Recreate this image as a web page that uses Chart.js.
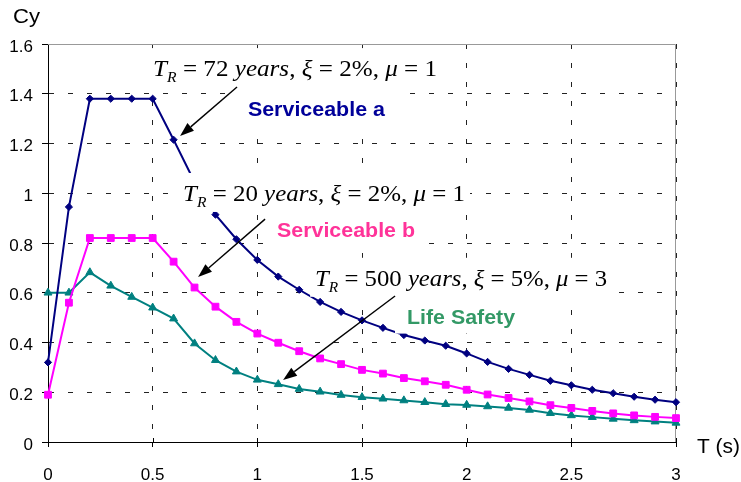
<!DOCTYPE html>
<html>
<head>
<meta charset="utf-8">
<title>Cy spectra</title>
<script src="https://cdn.jsdelivr.net/npm/chart.js@4/dist/chart.umd.min.js"></script>
<style>
  html, body { margin: 0; padding: 0; background: #fff; }
</style>
</head>
<body>
<canvas id="chart-cy" width="741" height="482"></canvas>
<script>
// periods T (s)
const periods = [0, 0.1, 0.2, 0.3, 0.4, 0.5, 0.6, 0.7, 0.8, 0.9, 1.0,
  1.1, 1.2, 1.3, 1.4, 1.5, 1.6, 1.7, 1.8, 1.9, 2.0,
  2.1, 2.2, 2.3, 2.4, 2.5, 2.6, 2.7, 2.8, 2.9, 3.0];

// Cy
const serviceableA = [0.32, 0.945, 1.38, 1.38, 1.38, 1.38, 1.215, 1.045, 0.914, 0.815, 0.732,
  0.665, 0.612, 0.563, 0.523, 0.489, 0.459, 0.430, 0.408, 0.387, 0.356,
  0.322, 0.294, 0.270, 0.246, 0.228, 0.210, 0.196, 0.182, 0.170, 0.160];
const serviceableB = [0.19, 0.56, 0.82, 0.82, 0.82, 0.82, 0.725, 0.621, 0.544, 0.483, 0.436,
  0.399, 0.365, 0.336, 0.313, 0.290, 0.275, 0.257, 0.244, 0.230, 0.210,
  0.191, 0.177, 0.163, 0.148, 0.137, 0.125, 0.115, 0.107, 0.101, 0.096];
const lifeSafety = [0.60, 0.60, 0.682, 0.628, 0.583, 0.540, 0.496, 0.396, 0.329, 0.283, 0.250,
  0.232, 0.213, 0.202, 0.189, 0.180, 0.174, 0.167, 0.160, 0.152, 0.149,
  0.143, 0.137, 0.129, 0.116, 0.107, 0.100, 0.093, 0.087, 0.082, 0.077];

const seriesNames = ["Serviceable a", "Serviceable b", "Life Safety"];
const returnPeriods = [72, 20, 500];
const dampingRatios = ["2%", "2%", "5%"];
const ductilities = [1, 1, 3];

const sans = "'Liberation Sans', Arial, sans-serif";
const serif = "'Liberation Serif', 'Times New Roman', serif";

// where the notes sit, in axis units (T, Cy)
const notes = [
  { text: [0.502, 1.471], textW: 284, label: [0.955, 1.312], labelW: 137, labelColor: "#000099",
    from: [0.903, 1.427], to: [0.631, 1.230] },
  { text: [0.645, 0.969], textW: 282, label: [1.094, 0.825], labelW: 138, labelColor: "#ff3399",
    from: [1.037, 0.896], to: [0.717, 0.663] },
  { text: [1.276, 0.628], textW: 292, label: [1.715, 0.476], labelW: 108, labelColor: "#339966",
    from: [1.658, 0.587], to: [1.123, 0.249] },
];

const points = (values) => periods.map((t, i) => ({ x: t, y: values[i] }));

const mathRuns = (i) => [
  { s: "T", it: true }, { s: "R", it: true, sub: true },
  { s: " = " + returnPeriods[i] + " " }, { s: "years", it: true }, { s: ", " },
  { s: "ξ", it: true }, { s: " = " + dampingRatios[i] }, { s: ", " },
  { s: "μ", it: true }, { s: " = " + ductilities[i] },
];
const runFont = (r) => (r.it ? "italic " : "") + (r.sub ? 15 : 24) + "px " + serif;

// draws a row of text runs stretched to the given width
const drawRuns = (ctx, runs, x, y, width) => {
  let natural = 0;
  runs.forEach((r) => {
    ctx.font = r.font || runFont(r);
    r.w = ctx.measureText(r.s).width;
    natural += r.w;
  });
  ctx.save();
  ctx.translate(x, y);
  ctx.scale(width / natural, 1);
  let cx = 0;
  runs.forEach((r) => {
    ctx.font = r.font || runFont(r);
    ctx.fillText(r.s, cx, r.sub ? 6 : 0);
    cx += r.w;
  });
  ctx.restore();
};

const drawArrow = (ctx, x1, y1, x2, y2) => {
  const ang = Math.atan2(y2 - y1, x2 - x1);
  const len = 14, half = 5;
  const bx = x2 - Math.cos(ang) * len, by = y2 - Math.sin(ang) * len;
  ctx.beginPath();
  ctx.moveTo(x1, y1);
  ctx.lineTo(bx, by);
  ctx.stroke();
  ctx.beginPath();
  ctx.moveTo(x2, y2);
  ctx.lineTo(bx - Math.sin(ang) * half, by + Math.cos(ang) * half);
  ctx.lineTo(bx + Math.sin(ang) * half, by - Math.cos(ang) * half);
  ctx.closePath();
  ctx.fill();
};

const frameAndNotes = {
  id: "frameAndNotes",
  beforeDatasetsDraw(chart) {
    const { ctx, chartArea: a, scales } = chart;
    ctx.save();
    ctx.lineWidth = 1;
    ctx.strokeStyle = "#999";
    const top = Math.round(a.top) + 0.5, right = Math.round(a.right) - 0.5;
    ctx.beginPath();
    ctx.moveTo(a.left, top);
    ctx.lineTo(right, top);
    ctx.lineTo(right, a.bottom);
    ctx.stroke();
    // small tick stubs inside the plot on the T axis
    ctx.strokeStyle = "#000";
    ctx.beginPath();
    scales.x.ticks.forEach((t) => {
      const x = Math.round(scales.x.getPixelForValue(t.value)) + 0.5;
      ctx.moveTo(x, a.bottom);
      ctx.lineTo(x, a.bottom - 4);
    });
    ctx.stroke();
    ctx.restore();
  },
  afterDatasetsDraw(chart) {
    const { ctx, scales } = chart;
    const px = (p) => [scales.x.getPixelForValue(p[0]), scales.y.getPixelForValue(p[1])];
    ctx.save();
    // white boxes behind the notes
    ctx.fillStyle = "#fff";
    notes.forEach((n) => {
      const [tx, ty] = px(n.text);
      ctx.fillRect(tx - 5, ty - 28, n.textW + 10, 39);
      const [lx, ly] = px(n.label);
      ctx.fillRect(lx - 12, ly - 23, n.labelW + 24, 33);
    });
    ctx.textBaseline = "alphabetic";
    ctx.textAlign = "left";
    notes.forEach((n, i) => {
      const [tx, ty] = px(n.text);
      ctx.fillStyle = "#000";
      drawRuns(ctx, mathRuns(i), tx, ty, n.textW);
      const [lx, ly] = px(n.label);
      ctx.fillStyle = n.labelColor;
      drawRuns(ctx, [{ s: seriesNames[i], font: "bold 20px " + sans }], lx, ly, n.labelW);
    });
    ctx.strokeStyle = "#000";
    ctx.fillStyle = "#000";
    ctx.lineWidth = 1.4;
    notes.forEach((n) => {
      const [x1, y1] = px(n.from);
      const [x2, y2] = px(n.to);
      drawArrow(ctx, x1, y1, x2, y2);
    });
    ctx.restore();
  },
  afterDraw(chart) {
    const { ctx } = chart;
    ctx.save();
    ctx.fillStyle = "#000";
    ctx.textBaseline = "alphabetic";
    drawRuns(ctx, [{ s: "Cy", font: "20px " + sans }], 13, 23, 27);
    drawRuns(ctx, [{ s: "T (s)", font: "20px " + sans }], 697, 453, 43);
    ctx.restore();
  },
};

const tickFont = { family: sans, size: 17 };
const tickText = (v) => String(Math.round(v * 10) / 10);

new Chart(document.querySelector("#chart-cy"), {
  type: "line",
  data: {
    datasets: [
      { label: seriesNames[0], data: points(serviceableA), borderColor: "#000080", backgroundColor: "#000080",
        borderWidth: 2, pointStyle: "rectRot", pointRadius: 3.6, pointBorderWidth: 1, clip: false },
      { label: seriesNames[1], data: points(serviceableB), borderColor: "#ff00ff", backgroundColor: "#ff00ff",
        borderWidth: 2, pointStyle: "rect", pointRadius: 4.8, pointBorderWidth: 1, clip: false },
      { label: seriesNames[2], data: points(lifeSafety), borderColor: "#008080", backgroundColor: "#008080",
        borderWidth: 2, pointStyle: "triangle", pointRadius: 4.6, pointBorderWidth: 1, clip: false },
    ],
  },
  options: {
    responsive: false,
    animation: false,
    layout: { padding: { top: 44, right: 65, left: 0, bottom: 0 } },
    plugins: { legend: { display: false }, tooltip: { enabled: false } },
    elements: { line: { tension: 0 } },
    scales: {
      x: {
        type: "linear", min: 0, max: 3,
        afterFit: (s) => { s.height = 40; },
        ticks: { stepSize: 0.5, padding: 18, color: "#000", font: tickFont, maxRotation: 0, callback: tickText },
        grid: { color: "#222", tickColor: "#000", tickLength: 5, lineWidth: 1 },
        border: { color: "#000", width: 1, dash: [5, 14] },
      },
      y: {
        type: "linear", min: 0, max: 1.6,
        afterFit: (s) => { s.width = 48; },
        ticks: { stepSize: 0.2, padding: 9, labelOffset: 3, color: "#000", font: tickFont, callback: tickText },
        grid: { color: "#222", tickColor: "#000", tickLength: 6, lineWidth: 1 },
        border: { color: "#000", width: 1, dash: [5, 14] },
      },
    },
  },
  plugins: [frameAndNotes],
});
</script>
</body>
</html>
